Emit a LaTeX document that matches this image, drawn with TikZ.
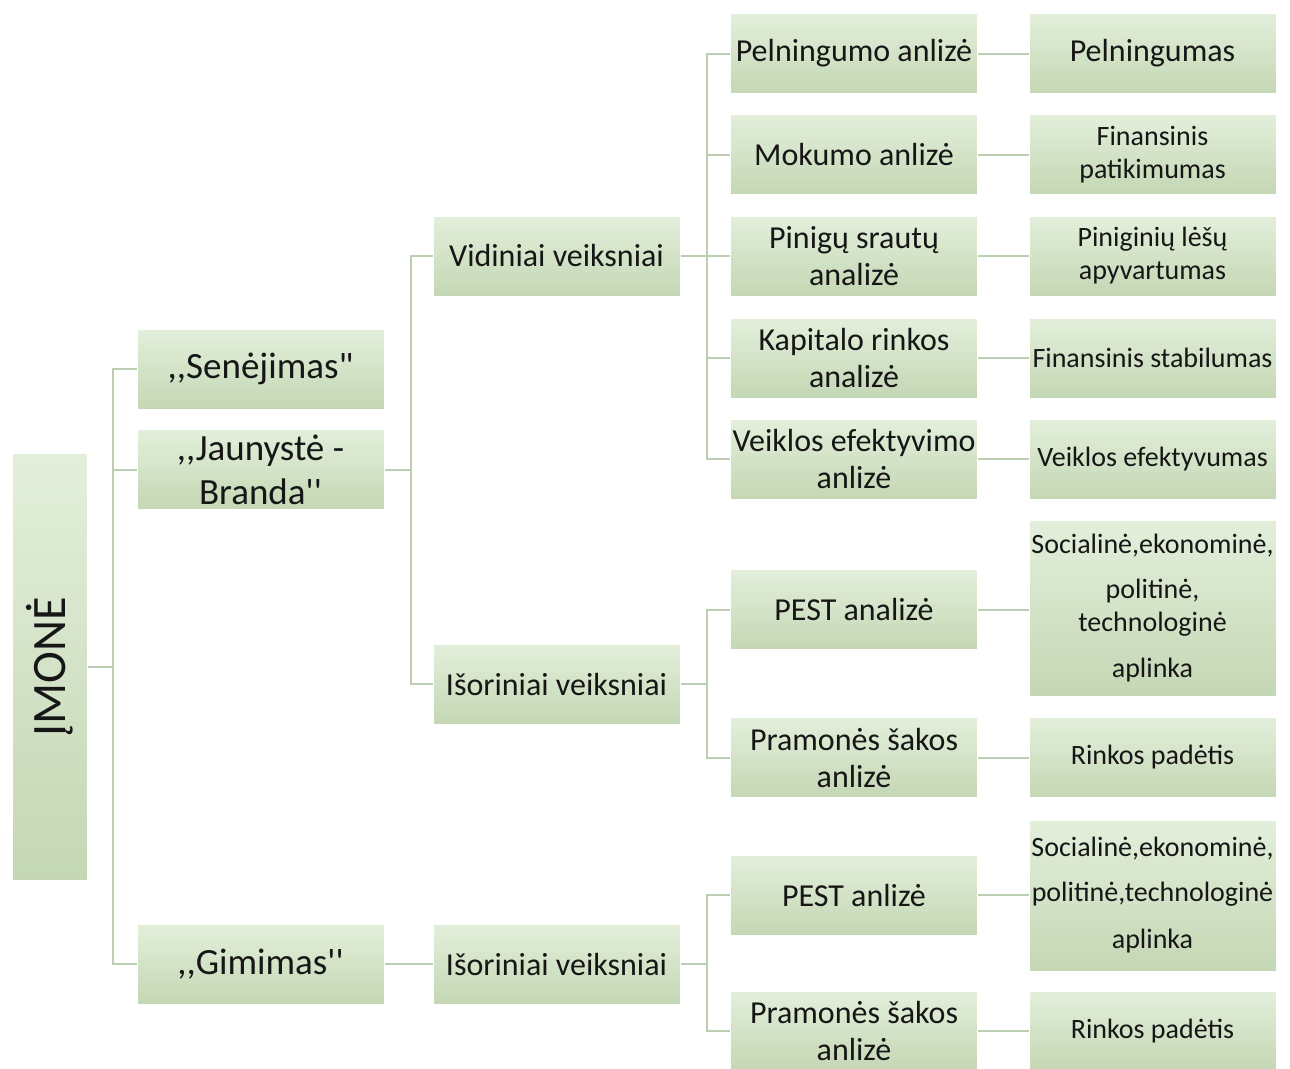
\documentclass[tikz,border=0pt]{standalone}
\usepackage{fontspec}
\usepackage{graphicx}
\newfontfamily\calib{Carlito}
\usetikzlibrary{positioning, calc}
\definecolor{leaftop}{RGB}{227,239,219}
\definecolor{leafbot}{RGB}{196,215,180}
\definecolor{leafline}{RGB}{188,207,178}
\definecolor{leafink}{RGB}{22,22,22}

\begin{document}
\begin{tikzpicture}[x=1pt, y=-1pt,
  box/.style={draw=white, line width=1pt, top color=leaftop, bottom color=leafbot,
              text=leafink, minimum width=247pt, minimum height=80pt, inner sep=0pt,
              align=center, font=\calib\fontsize{32}{37}\selectfont},
  small/.style={font=\calib\fontsize{28}{33}\selectfont},
  big/.style={font=\calib\fontsize{37}{44}\selectfont},
  link/.style={leafline, line width=2pt},
]
  \useasboundingbox (0,0) rectangle (1290,1068);

  % Root
  \node[box, minimum width=75pt, minimum height=427pt, font=\calib\fontsize{48}{54}\selectfont]
    (imone) at (49.5,666.5) {\rotatebox{90}{ĮMONĖ}};

  % Life stages
  \node[box, big] (senejimas) at (260.5,369) {,\kern0pt,Senėjimas"};
  \node[box, big] (jaunyste) at (260.5,469.5) {,\kern0pt,Jaunystė -\\Branda'\kern0pt'};
  \node[box, big] (gimimas) at (260.5,964) {,\kern0pt,Gimimas'\kern0pt'};

  % Factors
  \node[box] (vidiniai) at (556.5,256) {Vidiniai veiksniai};
  \node[box] (isoriniai) at (556.5,684) {Išoriniai veiksniai};
  \node[box] (isoriniaiG) at (556.5,964) {Išoriniai veiksniai};

  % Analyses
  \node[box] (pelnAn) at (854,53.5) {Pelningumo anlizė};
  \node[box] (mokAn) at (854,154.5) {Mokumo anlizė};
  \node[box] (pinAn) at (854,256) {Pinigų srautų\\analizė};
  \node[box] (kapAn) at (854,358) {Kapitalo rinkos\\analizė};
  \node[box] (veikAn) at (854,459) {Veiklos efektyvimo\\anlizė};
  \node[box] (pestAn) at (854,609.5) {PEST analizė};
  \node[box] (pramAn) at (854,757.5) {Pramonės šakos\\anlizė};
  \node[box] (pestG) at (854,895) {PEST anlizė};
  \node[box] (pramG) at (854,1031) {Pramonės šakos\\anlizė};

  % Results
  \node[box] (pelnRes) at (1152.5,53.5) {Pelningumas};
  \node[box, small] (finPat) at (1152.5,154.5) {Finansinis\\patikimumas};
  \node[box, small] (pinLes) at (1152.5,256) {Piniginių lėšų\\apyvartumas};
  \node[box, small] (finStab) at (1152.5,358) {Finansinis stabilumas};
  \node[box, small] (veikEf) at (1152.5,459) {Veiklos efektyvumas};
  \node[box, small, minimum height=176pt] (socAp) at (1152.5,608)
    {Socialinė,ekonominė,\\[12pt]politinė,\\technologinė\\[13pt]aplinka};
  \node[box, small] (rinkPad) at (1152.5,757.5) {Rinkos padėtis};
  \node[box, small, minimum height=151pt] (socApG) at (1152.5,895.5)
    {Socialinė,ekonominė,\\[12pt]politinė,technologinė\\[14pt]aplinka};
  \node[box, small] (rinkPadG) at (1152.5,1031) {Rinkos padėtis};

  % Root to stages
  \draw[link] (imone.east) -- ++(25,0) coordinate (trunk);
  \draw[link] (trunk) |- (senejimas.west);
  \draw[link] (trunk) |- (jaunyste.west);
  \draw[link] (trunk) |- (gimimas.west);

  % Stages to factors
  \draw[link] (jaunyste.east) -- ++(26,0) coordinate (brJ);
  \draw[link] (brJ) |- (vidiniai.west);
  \draw[link] (brJ) |- (isoriniai.west);
  \draw[link] (gimimas) -- (isoriniaiG);

  % Factors to analyses
  \draw[link] (vidiniai.east) -- ++(26,0) coordinate (brV);
  \draw[link] (brV) |- (pelnAn.west);
  \draw[link] (brV) |- (mokAn.west);
  \draw[link] (brV) |- (pinAn.west);
  \draw[link] (brV) |- (kapAn.west);
  \draw[link] (brV) |- (veikAn.west);
  \draw[link] (isoriniai.east) -- ++(26,0) coordinate (brI);
  \draw[link] (brI) |- (pestAn.west);
  \draw[link] (brI) |- (pramAn.west);
  \draw[link] (isoriniaiG.east) -- ++(26,0) coordinate (brG);
  \draw[link] (brG) |- (pestG.west);
  \draw[link] (brG) |- (pramG.west);

  % Analyses to results
  \draw[link] (pelnAn) -- (pelnRes);
  \draw[link] (mokAn) -- (finPat);
  \draw[link] (pinAn) -- (pinLes);
  \draw[link] (kapAn) -- (finStab);
  \draw[link] (veikAn) -- (veikEf);
  \draw[link] (pestAn) -- (pestAn -| socAp.west);
  \draw[link] (pramAn) -- (rinkPad);
  \draw[link] (pestG) -- (pestG -| socApG.west);
  \draw[link] (pramG) -- (rinkPadG);
\end{tikzpicture}
\end{document}
